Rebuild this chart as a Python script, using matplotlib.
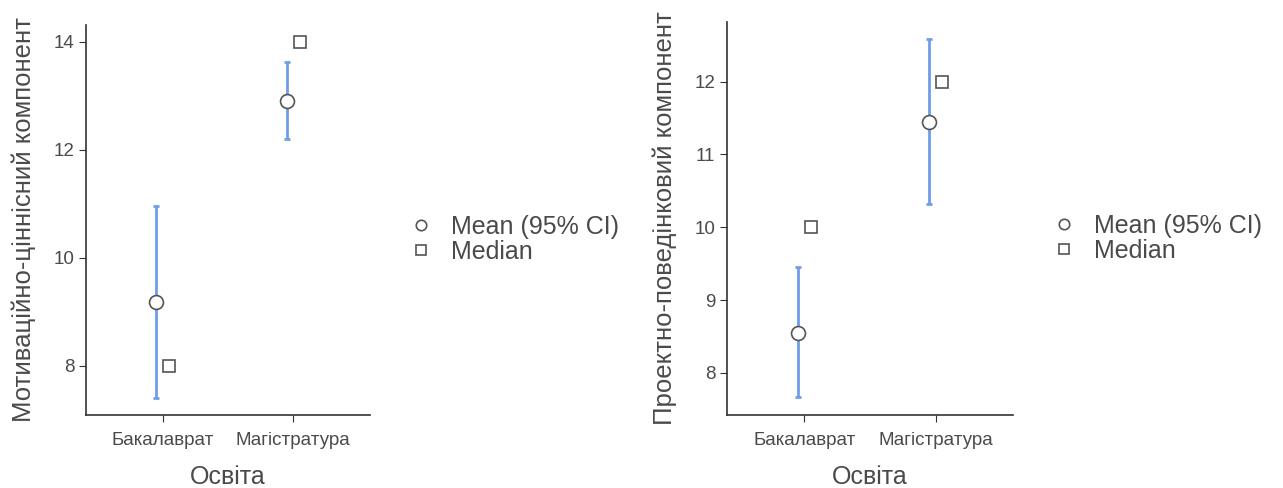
import numpy as np
import matplotlib.pyplot as plt
from matplotlib.lines import Line2D

plt.rcParams['font.family'] = ['Liberation Sans', 'DejaVu Sans']

# Data
groups = ['Бакалаврат', 'Магістратура']
xlabel = 'Освіта'

ylabel_1 = 'Мотиваційно-ціннісний компонент'
mean_1 = [9.19, 12.91]
ci_low_1 = [7.41, 12.20]
ci_high_1 = [10.96, 13.63]
median_1 = [8, 14]
yticks_1 = [8, 10, 12, 14]
ylim_1 = (7.09, 14.31)

ylabel_2 = 'Проектно-поведінковий компонент'
mean_2 = [8.55, 11.45]
ci_low_2 = [7.67, 10.32]
ci_high_2 = [9.46, 12.59]
median_2 = [10, 12]
yticks_2 = [8, 9, 10, 11, 12]
ylim_2 = (7.42, 12.82)

blue = '#6f9ee8'
grey = '#555555'
text_col = '#4a4a4a'

fig = plt.figure(figsize=(12.83, 4.88), dpi=100)
ax1 = fig.add_axes([0.067, 0.1496, 0.2214, 0.7992])
ax2 = fig.add_axes([0.5666, 0.1496, 0.2230, 0.8053])


def draw(ax, mean, lo, hi, med, ylabel, yticks, ylim):
    x = np.arange(1, len(groups) + 1)
    dodge = 0.05
    mean = np.array(mean)
    yerr = [mean - np.array(lo), np.array(hi) - mean]
    ax.errorbar(x - dodge, mean, yerr=yerr, fmt='none', ecolor=blue,
                elinewidth=2, capsize=2.5, capthick=2, zorder=2)
    ax.plot(x - dodge, mean, 'o', ms=10, mfc='white', mec=grey, mew=1.2, zorder=3)
    ax.plot(x + dodge, med, 's', ms=9, mfc='white', mec=grey, mew=1.2, zorder=3)

    ax.set_xlim(0.41, 2.59)
    ax.set_ylim(*ylim)
    ax.set_xticks(x)
    ax.set_xticklabels(groups)
    ax.set_yticks(yticks)
    ax.set_xlabel(xlabel, fontsize=18, color=text_col, labelpad=12)
    ax.set_ylabel(ylabel, fontsize=18.5, color=text_col)
    ax.yaxis.set_label_coords(-0.175, 0.5)
    for s in ['top', 'right']:
        ax.spines[s].set_visible(False)
    for s in ['left', 'bottom']:
        ax.spines[s].set_color('#333333')
        ax.spines[s].set_linewidth(1.2)
    ax.tick_params(colors='#333333', labelcolor=text_col, labelsize=13.5, length=5)
    ax.tick_params(axis='x', pad=7)

    handles = [
        Line2D([], [], ls='none', marker='o', ms=7.5, mfc='white', mec=grey, mew=1.2),
        Line2D([], [], ls='none', marker='s', ms=6.5, mfc='white', mec=grey, mew=1.2),
    ]
    leg = ax.legend(handles, ['Mean (95% CI)', 'Median'], loc='center left',
                    bbox_to_anchor=(1.055, 0.45), frameon=False, fontsize=18,
                    handlelength=1.0, handletextpad=0.7, labelspacing=0.05)
    for t in leg.get_texts():
        t.set_color(text_col)


draw(ax1, mean_1, ci_low_1, ci_high_1, median_1, ylabel_1, yticks_1, ylim_1)
draw(ax2, mean_2, ci_low_2, ci_high_2, median_2, ylabel_2, yticks_2, ylim_2)

fig.savefig('out.png', dpi=100)
